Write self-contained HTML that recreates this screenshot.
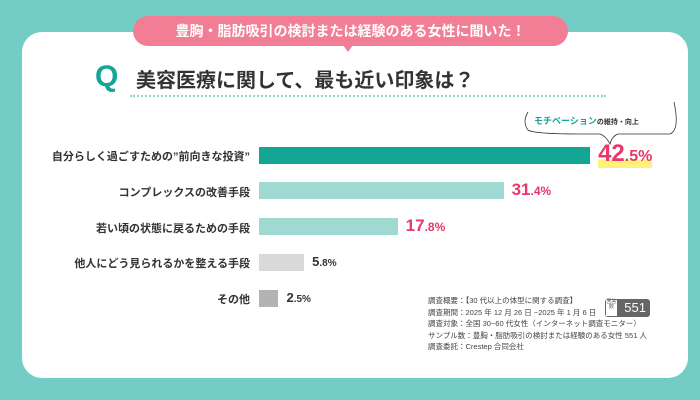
<!DOCTYPE html>
<html><head><meta charset="utf-8"><style>
body{margin:0;width:700px;height:400px;background:#74cdc4;font-family:"Liberation Sans","Noto Sans CJK JP",sans-serif;position:relative;overflow:hidden}
.card{position:absolute;left:22px;top:32px;width:666px;height:346px;background:#fff;border-radius:20px}
.banner{position:absolute;left:133px;top:16px;width:435px;height:30px;background:#f27e95;border-radius:15px;color:#fff;font-weight:bold;font-size:14px;line-height:30px;text-align:center}
.tri{position:absolute;left:343px;top:45px;width:0;height:0;border-left:5px solid transparent;border-right:5px solid transparent;border-top:7px solid #f27e95}
.q{position:absolute;left:95px;top:60px;color:#13a596;font-size:30px;font-weight:bold}
.title{position:absolute;left:136px;top:64px;font-size:20px;font-weight:bold;color:#333}
.dots{position:absolute;left:130px;top:95px;width:476px;border-top:2px dotted #8fd3c9}
.lbl{position:absolute;right:450px;font-size:11px;font-weight:bold;color:#333;white-space:nowrap}
.val{position:absolute;font-weight:bold;color:#e8386a;font-size:17px}
.val small{font-size:12px}
.note{position:absolute;left:428px;top:295px;font-size:7.5px;color:#444;line-height:11.5px}
</style></head><body>
<div class="card"></div>
<div class="banner">豊胸・脂肪吸引の検討または経験のある女性に聞いた！</div>
<div class="tri"></div>
<div class="q">Q</div>
<div class="title">美容医療に関して、最も近い印象は？</div>
<div class="dots"></div>
<svg style="position:absolute;left:520px;top:100px" width="170" height="48">
<path d="M8 12 Q2 22 8 30 Q14 34 60 34 L80 34 Q86 36 90 44 Q92 36 98 34 L150 34 Q160 30 154 2" fill="none" stroke="#333" stroke-width="0.8"/>
<text x="14" y="24" font-size="9" font-weight="bold" fill="#13a596">モチベーション<tspan fill="#333" font-size="7">の維持・向上</tspan></text>
</svg>
<div id="chart"></div>
<div class="note">調査概要：【30 代以上の体型に関する調査】<br>調査期間：2025 年 12 月 26 日 ~2025 年 1 月 6 日<br>調査対象：全国 30~60 代女性（インターネット調査モニター）<br>サンプル数：豊胸・脂肪吸引の検討または経験のある女性 551 人<br>調査委託：Crestep 合同会社</div>
<div style="position:absolute;left:605px;top:299px;width:45px;height:18px;background:#666;border-radius:3px;color:#fff;font-size:13px;line-height:18px;text-align:right;padding-right:4px;box-sizing:border-box"><span style="position:absolute;left:1px;top:1px;width:11px;height:16px;background:#fff;color:#666;font-size:5px;line-height:5px;text-align:center">回答数</span>551</div>
<script>
const categories=["自分らしく過ごすための”前向きな投資”","コンプレックスの改善手段","若い頃の状態に戻るための手段","他人にどう見られるかを整える手段","その他"];
const values=[42.5,31.4,17.8,5.8,2.5];
const colors=["#13a596","#9fd9d2","#9fd9d2","#d9d9d9","#b3b3b3"];
const x0=259,scale=7.79,y0=155,step=35.8,bh=17;
const c=document.getElementById('chart');
categories.forEach((cat,i)=>{
 const yc=y0+i*step;
 const l=document.createElement('div');l.className='lbl';l.style.top=(yc-7)+'px';l.textContent=cat;
 
 
 c.appendChild(l);
 const w=values[i]*scale;
 const b=document.createElement('div');
 b.style.cssText=`position:absolute;left:${x0}px;top:${yc-bh/2}px;width:${w}px;height:${bh}px;background:${colors[i]}`;
 
 
 c.appendChild(b);
 const v=document.createElement('div');v.className='val';
 const s=values[i].toFixed(1).split('.');
 v.innerHTML=`${s[0]}<small>.${s[1]}%</small>`;
 const big=i===0;
 if(big){v.style.fontSize='24px';v.innerHTML=`${s[0]}<small style="font-size:16px">.${s[1]}%</small>`;v.style.background='linear-gradient(transparent 70%,#fff27a 70%)';}
 if(i>=3){v.style.color='#333';v.style.fontSize='13px';v.innerHTML=`${s[0]}<small style="font-size:10px">.${s[1]}%</small>`;}
 v.style.left=(x0+w+(big?8:8))+'px';
 v.style.top=(yc-(big?15:(i>=3?8:11)))+'px';
 
 
 c.appendChild(v);
});
</script>
</body></html>
